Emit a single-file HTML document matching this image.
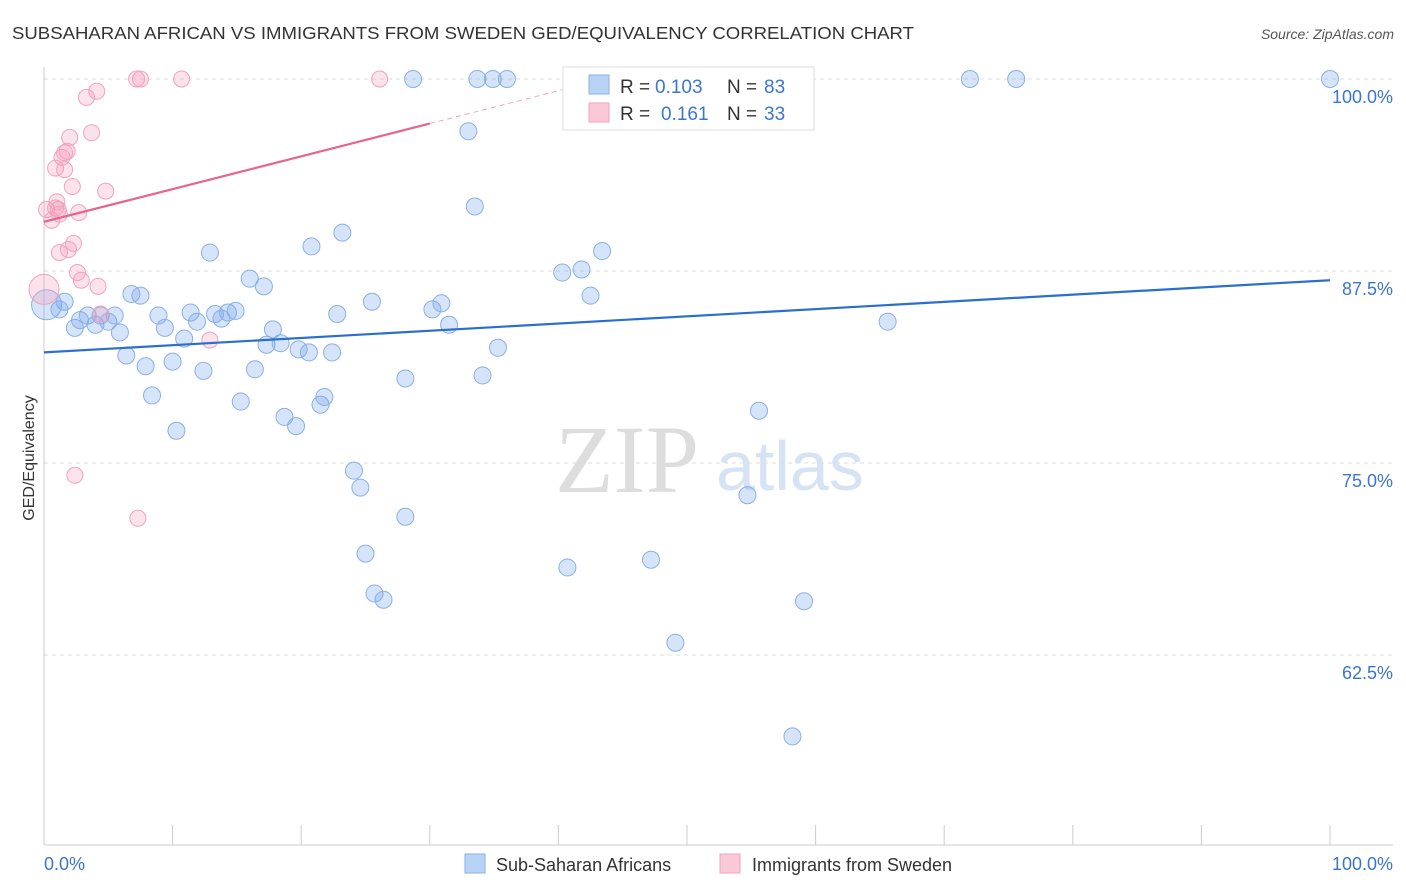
<!DOCTYPE html>
<html><head><meta charset="utf-8"><style>
body{margin:0;background:#fff;font-family:"Liberation Sans",sans-serif}
svg{display:block}
</style></head><body>
<svg id="c" width="1406" height="892" xmlns="http://www.w3.org/2000/svg">
<text x="12" y="39" font-size="17.5" fill="#333" textLength="902" lengthAdjust="spacingAndGlyphs">SUBSAHARAN AFRICAN VS IMMIGRANTS FROM SWEDEN GED/EQUIVALENCY CORRELATION CHART</text>
<text x="1394" y="39" font-size="14" fill="#555" font-style="italic" text-anchor="end">Source: ZipAtlas.com</text>
<text x="34" y="458" font-size="16" fill="#333" text-anchor="middle" transform="rotate(-90 34 458)">GED/Equivalency</text>
<text x="555" y="492" font-size="96" fill="#ddd" font-family="Liberation Serif,serif">ZIP</text>
<text x="716" y="490" font-size="70" fill="#d6e3f5">atlas</text>
<g id="grid"></g><g id="pts"></g><g id="lines"></g>
<g>
<rect x="563" y="67" width="251" height="63" fill="#fff" stroke="#ddd"/>
<rect x="589" y="75" width="20" height="19" fill="#b8d3f5" stroke="#8ab0e3"/>
<rect x="589" y="103" width="20" height="19" fill="#fac8d7" stroke="#f0a3bb"/>
<text x="620" y="93" font-size="19" fill="#333">R =</text>
<text x="655" y="93" font-size="19" fill="#3a76d0">0.103</text>
<text x="727" y="93" font-size="19" fill="#333">N =</text>
<text x="764" y="93" font-size="19" fill="#3a76d0">83</text>
<text x="620" y="120" font-size="19" fill="#333">R =</text>
<text x="661" y="120" font-size="19" fill="#3a76d0">0.161</text>
<text x="727" y="120" font-size="19" fill="#333">N =</text>
<text x="764" y="120" font-size="19" fill="#3a76d0">33</text>
</g>
<g>
<rect x="465" y="854" width="20" height="19" fill="#b8d3f5" stroke="#8ab0e3"/>
<text x="496" y="871" font-size="18" fill="#333">Sub-Saharan Africans</text>
<rect x="720" y="854" width="20" height="19" fill="#fac8d7" stroke="#f0a3bb"/>
<text x="752" y="871" font-size="18" fill="#333">Immigrants from Sweden</text>
</g>
<text x="44" y="870" font-size="18" fill="#3a76d0">0.0%</text>
<text x="1393" y="870" font-size="18" fill="#3a76d0" text-anchor="end">100.0%</text>
</svg>
<script>
const yTicks=[100,87.5,75,62.5];
const yTickLabels=["100.0%","87.5%","75.0%","62.5%"];
const blueX=[0.2,1.6,1.2,2.4,2.8,3.4,4.0,4.4,5.0,5.5,5.9,6.4,6.8,7.5,7.9,8.4,8.9,9.4,10.0,10.3,10.9,11.4,11.9,12.4,12.9,13.3,13.8,14.3,14.9,15.3,16.0,16.4,17.1,17.3,17.8,18.4,18.7,19.6,19.8,20.6,20.8,21.5,21.8,22.4,22.8,23.2,24.1,24.6,25.0,25.5,25.7,26.4,28.1,28.1,28.7,30.2,30.9,31.5,33.0,33.5,33.7,34.1,34.9,35.3,36.0,40.3,40.7,41.8,42.5,43.4,46.3,47.2,49.1,52.3,54.7,55.6,58.2,59.1,65.6,72.0,75.6,100];
const blueY=[85.3,85.5,85.0,83.8,84.3,84.6,84.0,84.6,84.2,84.6,83.5,82.0,86.0,85.9,81.3,79.4,84.6,83.8,81.6,77.1,83.1,84.8,84.2,81.0,88.7,84.7,84.4,84.8,84.9,79.0,87.0,81.1,86.5,82.7,83.7,82.8,78.0,77.4,82.4,82.2,89.1,78.8,79.3,82.2,84.7,90.0,74.5,73.4,69.1,85.5,66.5,66.1,80.5,71.5,100,85.0,85.4,84.0,96.6,91.7,100,80.7,100,82.5,100,87.4,68.2,87.6,85.9,88.8,100,68.7,63.3,100,72.9,78.4,57.2,66.0,84.2,100,100,100];
const pinkX=[0,0.2,0.6,0.9,1.0,1.2,0.9,1.4,1.6,1.8,1.6,2.2,2.0,1.9,1.2,2.3,2.6,2.7,2.9,3.3,3.7,4.1,4.2,4.4,4.8,7.2,7.5,10.7,26.1,2.4,7.3,12.9,1.1];
const pinkY=[86.3,91.5,90.8,91.6,92.0,91.2,94.2,94.9,95.2,95.3,94.1,93.0,96.2,88.9,88.7,89.3,87.4,91.3,86.9,98.8,96.5,99.2,86.5,84.7,92.7,100,100,100,100,74.2,71.4,83.0,91.5];
const blueTrend=[82.2,86.9];
const pinkTrend=[90.7,97.1];
const NS="http://www.w3.org/2000/svg";
const X=v=>44+v*12.86, Y=v=>79+(100-v)*15.36;
function mk(t,a,p){const e=document.createElementNS(NS,t);for(const k in a)e.setAttribute(k,a[k]);p.appendChild(e);return e;}
const grid=document.getElementById('grid');
yTicks.forEach((t,i)=>{
 const l=mk('line',{x1:44,x2:1393,y1:Y(t),y2:Y(t),stroke:'#ddd','stroke-dasharray':'4,4'},grid);
 
 
 const tx=mk('text',{x:1393,y:Y(t)+24,'font-size':18,fill:'#3a76d0','text-anchor':'end'},grid);
 tx.textContent=yTickLabels[i];
 
 
});
const ax=mk('line',{x1:44,x2:44,y1:67,y2:845,stroke:'#ccc'},grid);


const bx=mk('line',{x1:44,x2:1393,y1:845,y2:845,stroke:'#ccc'},grid);


for(let i=0;i<=10;i++){const t=mk('line',{x1:X(i*10),x2:X(i*10),y1:825,y2:845,stroke:'#ccc'},grid);
 
 }
const pts=document.getElementById('pts');
blueX.forEach((x,i)=>{const c=mk('circle',{cx:X(x),cy:Y(blueY[i]),r:i==0?15:8.5,fill:'rgba(120,165,235,0.3)',stroke:'#8ab0e3','stroke-width':1},pts);
 
 });
pinkX.forEach((x,i)=>{const c=mk('circle',{cx:X(x),cy:Y(pinkY[i]),r:i==0?15:8,fill:'rgba(245,160,190,0.3)',stroke:'#f0a3bb','stroke-width':1},pts);
 
 });
const lines=document.getElementById('lines');
const bl=mk('line',{x1:X(0),y1:Y(blueTrend[0]),x2:X(100),y2:Y(blueTrend[1]),stroke:'#2a6fd0','stroke-width':2.2},lines);


const ps=(pinkTrend[1]-pinkTrend[0])/30;
const pl=mk('line',{x1:X(0),y1:Y(pinkTrend[0]),x2:X(30),y2:Y(pinkTrend[1]),stroke:'#e8638f','stroke-width':2.2},lines);


const pd=mk('line',{x1:X(30),y1:Y(pinkTrend[1]),x2:X(41),y2:Y(pinkTrend[0]+ps*41),stroke:'#f0a3bb','stroke-width':1,'stroke-dasharray':'5,4'},lines);


</script>
</body></html>
